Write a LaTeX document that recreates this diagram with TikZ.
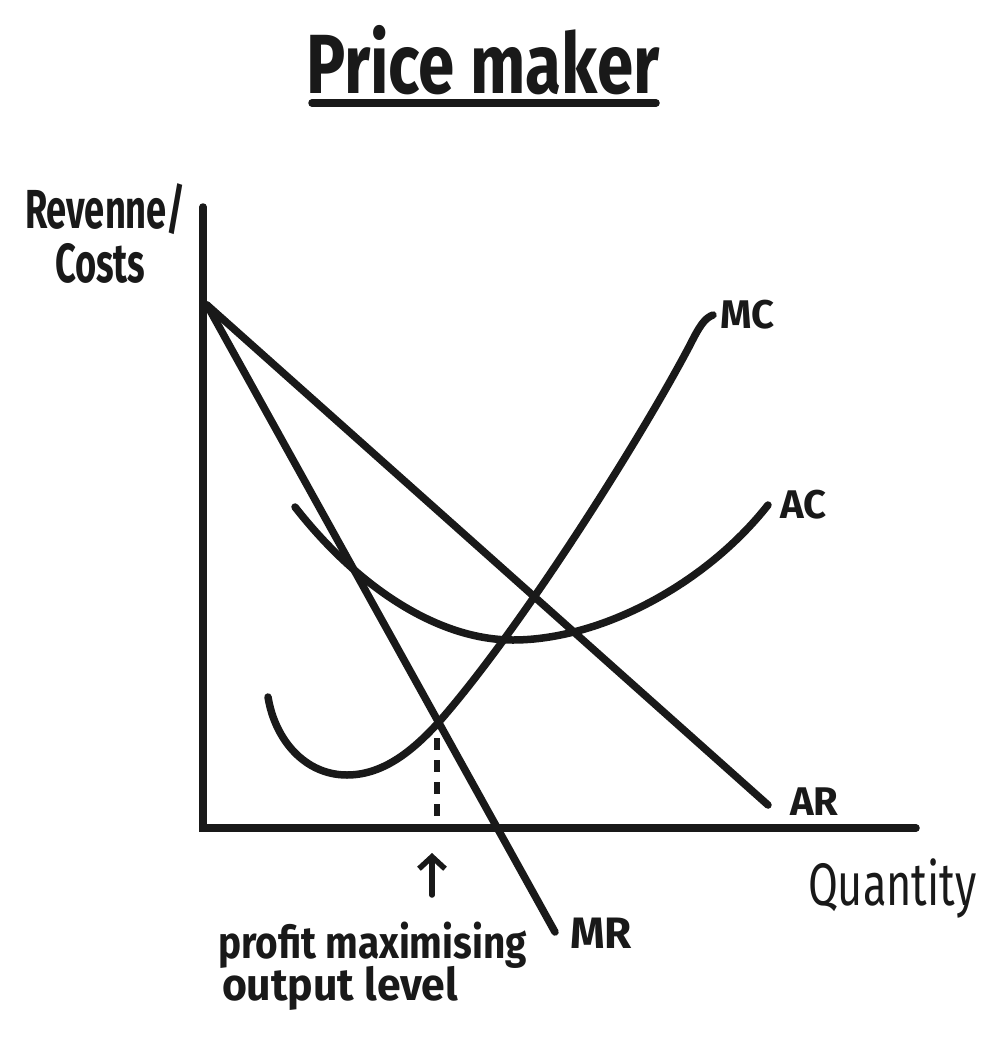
\documentclass[tikz,border=0pt]{standalone}
\usepackage{fontspec}
\setmainfont{Fira Sans}
\usetikzlibrary{arrows.meta}
\newcommand{\hwtxt}[2]{\scalebox{#1}[1]{#2}}
\begin{document}
\begin{tikzpicture}[x=1pt,y=-1pt,
  curve/.style={line width=7.5pt,line cap=round,line join=round,black!90},
  axisline/.style={line width=7.5pt,line cap=round,black!90},
  lbl/.style={anchor=base west,inner sep=0pt,outer sep=0pt,font=\bfseries,text=black!90}]
\useasboundingbox (0,0) rectangle (1000,1057);
% title
\node[lbl,font=\fontsize{84}{84}\selectfont\bfseries] (title) at (306,93) {\hwtxt{0.78}{Price maker}};
\coordinate (ulL) at (312,103);
\coordinate (ulR) at (656,103);
\draw[axisline] (ulL) -- (ulR);
% axes
\coordinate (ytop) at (203,207);
\coordinate (O) at (203,828);
\coordinate (xend) at (916,828);
\draw[axisline] (ytop) -- (O) -- (xend);
% axis labels
\node[lbl,font=\fontsize{55}{55}\selectfont\bfseries] (rev) at (25,228) {\hwtxt{0.66}{Revenne/}};
\node[lbl,font=\fontsize{55}{55}\selectfont\bfseries] (costs) at (55,282) {\hwtxt{0.66}{Costs}};
\node[lbl,font=\fontsize{60}{60}\selectfont\mdseries] (qty) at (808,905) {\hwtxt{0.72}{Quantity}};
% AR and MR
\coordinate (top) at (207,305);
\coordinate (ARend) at (768,805);
\coordinate (MRend) at (555,932);
\draw[curve] (top) -- (ARend);
\draw[curve] (top) -- (MRend);
\node[lbl,font=\fontsize{40}{40}\selectfont\bfseries] (ARl) at (790,815) {AR};
\node[lbl,font=\fontsize{44}{44}\selectfont\bfseries] (MRl) at (570,948) {MR};
% MC
\coordinate (mc0) at (268,697);
\coordinate (mc1) at (347,775);
\coordinate (mc2) at (438,723);
\coordinate (mc3) at (690,345);
\coordinate (mc4) at (713,315);
\draw[curve] (mc0) .. controls (275,740) and (305,775) .. (mc1)
  .. controls (385,775) and (415,748) .. (mc2)
  .. controls (520,630) and (640,440) .. (mc3)
  .. controls (700,325) and (705,318) .. (mc4);
\node[lbl,font=\fontsize{40}{40}\selectfont\bfseries] (MCl) at (720,328) {MC};
% AC
\coordinate (ac0) at (295,507);
\coordinate (ac1) at (513,640);
\coordinate (ac2) at (768,505);
\draw[curve] (ac0) .. controls (360,590) and (440,640) .. (ac1)
  .. controls (600,640) and (705,585) .. (ac2);
\node[lbl,font=\fontsize{40}{40}\selectfont\bfseries] (ACl) at (780,518) {AC};
% dashed
\coordinate (dTop) at (437,738);
\coordinate (dBot) at (437,822);
\draw[line width=6pt,dash pattern=on 12pt off 10pt,black!90] (dTop) -- (dBot);
% arrow
\coordinate (aS) at (432,895);
\coordinate (aE) at (432,853);
\draw[line width=5.5pt,line cap=round,black!90,-{Straight Barb[length=12pt,width=26pt,line width=5.5pt]}] (aS) -- (aE);
\node[lbl,font=\fontsize{45}{45}\selectfont\bfseries] (pm) at (218,958) {\hwtxt{0.86}{profit maximising}};
\node[lbl,font=\fontsize{45}{45}\selectfont\bfseries] (ol) at (222,1000) {\hwtxt{0.95}{output level}};
\end{tikzpicture}
\end{document}
